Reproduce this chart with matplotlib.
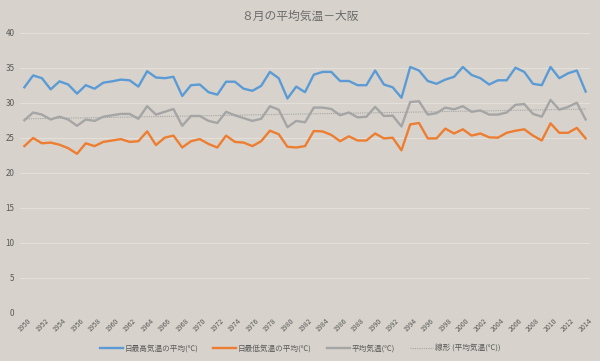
import numpy as np
import matplotlib
matplotlib.use('Agg')
import matplotlib.pyplot as plt

plt.rcParams['font.family'] = ['Noto Sans CJK JP', 'DejaVu Sans']

# data
years = list(range(1950, 2015))
t_max = [32.2, 33.9, 33.5, 31.9, 33.05, 32.6, 31.3, 32.5, 32.0, 32.86,
         33.05, 33.3, 33.2, 32.3, 34.5, 33.6, 33.5, 33.7, 30.96, 32.5,
         32.6, 31.5, 31.15, 33.0, 33.0, 32.0, 31.7, 32.4, 34.4, 33.5,
         30.6, 32.3, 31.5, 34.0, 34.4, 34.4, 33.1, 33.1, 32.5, 32.5,
         34.6, 32.6, 32.2, 30.7, 35.1, 34.6, 33.1, 32.7, 33.3, 33.7,
         35.1, 33.96, 33.5, 32.6, 33.2, 33.2, 35.0, 34.4, 32.7, 32.5,
         35.1, 33.5, 34.2, 34.6, 31.6]
t_min = [23.8, 24.96, 24.2, 24.3, 24.0, 23.5, 22.7, 24.2, 23.8, 24.4,
         24.6, 24.8, 24.4, 24.5, 25.9, 23.95, 25.0, 25.3, 23.6, 24.5,
         24.8, 24.1, 23.6, 25.3, 24.4, 24.3, 23.8, 24.5, 26.0, 25.5,
         23.7, 23.6, 23.8, 25.95, 25.9, 25.4, 24.5, 25.2, 24.6, 24.6,
         25.6, 24.9, 25.0, 23.2, 26.9, 27.1, 24.9, 24.9, 26.3, 25.6,
         26.2, 25.3, 25.6, 25.05, 25.0, 25.7, 26.0, 26.2, 25.3, 24.6,
         27.05, 25.7, 25.7, 26.4, 24.9]
t_avg = [27.5, 28.6, 28.3, 27.6, 28.0, 27.6, 26.7, 27.6, 27.4, 28.0,
         28.2, 28.4, 28.4, 27.7, 29.5, 28.3, 28.7, 29.1, 26.7, 28.1,
         28.1, 27.4, 27.1, 28.7, 28.2, 27.8, 27.4, 27.7, 29.5, 29.0,
         26.5, 27.4, 27.2, 29.3, 29.3, 29.1, 28.2, 28.6, 27.9, 28.0,
         29.4, 28.1, 28.15, 26.6, 30.1, 30.2, 28.3, 28.5, 29.3, 29.05,
         29.5, 28.7, 28.9, 28.3, 28.3, 28.6, 29.7, 29.8, 28.4, 28.0,
         30.4, 29.0, 29.4, 30.0, 27.6]

labels = ['日最高気温の平均(℃)', '日最低気温の平均(℃)', '平均気温(℃)', '線形 (平均気温(℃))']
title = '８月の平均気温－大阪'

bg = '#d7d3cc'
grid_c = '#e3e0da'
txt = '#595959'

x = np.arange(len(years))
coef = np.polyfit(x, t_avg, 1)
trend = np.polyval(coef, x)

fig = plt.figure(figsize=(6.0, 3.61), dpi=100, facecolor=bg)
ax = fig.add_axes([20 / 600, 1 - 312.7 / 361, 570 / 600, 280 / 361])
ax.set_facecolor(bg)

ax.plot(x, t_max, color='#5b9bd5', lw=1.7, label=labels[0], zorder=3)
ax.plot(x, t_min, color='#ed7d31', lw=1.7, label=labels[1], zorder=3)
ax.plot(x, t_avg, color='#a5a5a5', lw=1.7, label=labels[2], zorder=3)
ax.plot(x, trend, color='#a5a5a5', lw=0.8, ls=(0, (1, 1)), label=labels[3], zorder=2)

ax.set_xlim(-0.5, len(years) - 0.5)
ax.set_ylim(0, 40)
ax.set_yticks(range(0, 41, 5))
ax.yaxis.grid(True, color=grid_c, lw=0.8)
ax.set_axisbelow(True)
for s in ax.spines.values():
    s.set_visible(False)

ax.set_xticks(x[::2])
ax.set_xticklabels([str(y) for y in years[::2]], rotation=45, fontsize=5,
                   color='#6a6a6a', ha='center')
ax.tick_params(axis='both', length=0, colors=txt)
ax.tick_params(axis='y', labelsize=5.8, pad=4)
ax.tick_params(axis='x', pad=3)

fig.text(0.5, 1 - 16 / 361, title, ha='center', va='center', fontsize=8.5, color='#6a6a6a')

fig.legend(loc='center', bbox_to_anchor=(0.5, 1 - 349 / 361), ncol=4, frameon=False,
           fontsize=5.5, labelcolor=txt, handlelength=3.0, handletextpad=0.2,
           columnspacing=2.0)

fig.savefig('out.png', dpi=100, facecolor=bg)
